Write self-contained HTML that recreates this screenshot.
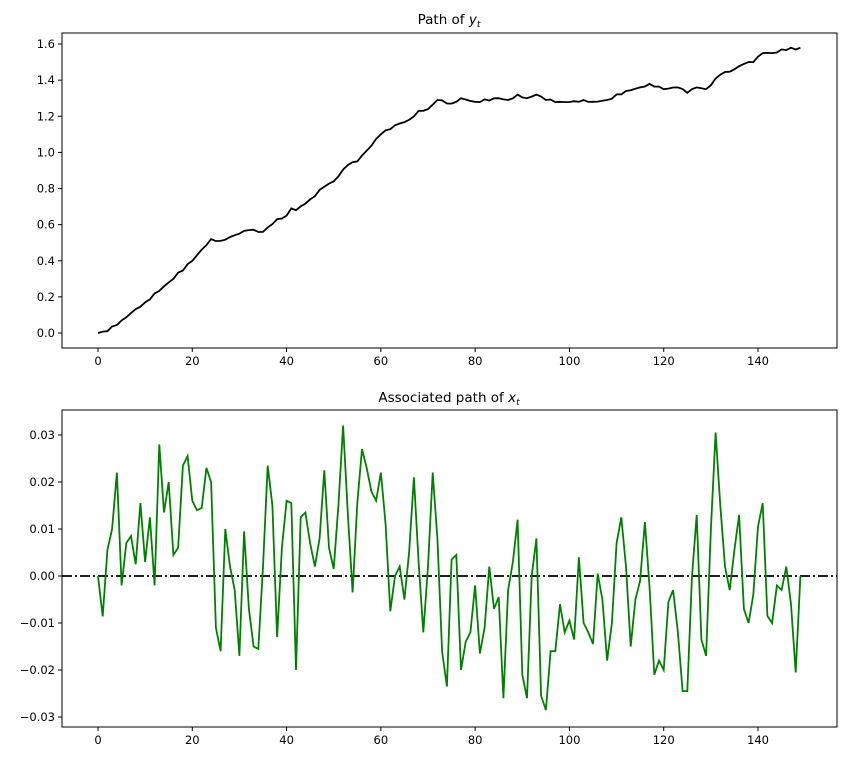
<!DOCTYPE html>
<html><head><meta charset="utf-8"><style>
html,body{margin:0;padding:0;background:#fff;}
svg text{font-family:"DejaVu Sans","Liberation Sans",sans-serif;font-size:11.5px;fill:#000;}
</style></head><body>
<svg id="s" width="847" height="759" xmlns="http://www.w3.org/2000/svg"></svg>
<script>
const S=document.getElementById('s');let h='';
const X=t=>98+t*(660/140);
const L=62,R=837;
function frame(t,b){h+=`<rect x="${L}" y="${t}" width="${R-L}" height="${b-t}" fill="none" stroke="#000" stroke-width="1"/>`;}
function xt(b){for(let k=0;k<=140;k+=20){const x=X(k);h+=`<line x1="${x}" y1="${b}" x2="${x}" y2="${b+4}" stroke="#000"/><text x="${x}" y="${b+17}" text-anchor="middle">${k}</text>`;}}
const key=[[0,0],[2,0.01],[5,0.07],[10,0.17],[15,0.28],[20,0.4],[24,0.52],[26,0.51],[30,0.55],[32,0.57],[35,0.56],[38,0.63],[40,0.65],[41,0.69],[42,0.68],[45,0.74],[48,0.81],[50,0.84],[53,0.93],[55,0.95],[60,1.10],[63,1.15],[66,1.18],[68,1.23],[70,1.24],[72,1.29],[75,1.27],[77,1.30],[80,1.28],[85,1.30],[87,1.29],[89,1.32],[91,1.30],[93,1.32],[95,1.29],[98,1.28],[102,1.28],[103,1.29],[105,1.28],[108,1.29],[112,1.34],[115,1.36],[117,1.38],[120,1.35],[123,1.36],[125,1.33],[127,1.36],[129,1.35],[132,1.43],[135,1.46],[137,1.49],[139,1.50],[141,1.55],[143,1.55],[147,1.58],[148,1.57],[149,1.58]];
const keyT=new Set(key.map(k=>k[0]));
function interp(t){for(let i=0;i<key.length-1;i++){const [a,va]=key[i],[b,vb]=key[i+1];if(t>=a&&t<=b)return va+(vb-va)*(t-a)/(b-a);}return key[key.length-1][1];}
let p=[];for(let t=0;t<150;t++){let v=interp(t);if(!keyT.has(t))v+=0.006*Math.sin(t*2.7);p.push(X(t).toFixed(1)+','+(333-v*180.6).toFixed(1));}
frame(33,348);
for(let k=0;k<=8;k++){const v=k*0.2,y=333-v*180.6;h+=`<line x1="${L-4}" y1="${y}" x2="${L}" y2="${y}" stroke="#000"/><text x="${L-7}" y="${y+4}" text-anchor="end">${v.toFixed(1)}</text>`;}
xt(348);
h+=`<polyline points="${p.join(' ')}" fill="none" stroke="#000" stroke-width="1.8"/>`;
h+=`<text x="449" y="24" text-anchor="middle" style="font-size:13.5px">Path of <tspan font-style="italic">y</tspan><tspan font-style="italic" font-size="9" dy="3">t</tspan></text>`;
const xs=[0,-0.86,0.55,1.0,2.2,-0.2,0.7,0.85,0.25,1.55,0.3,1.25,-0.2,2.8,1.35,2.0,0.45,0.6,2.35,2.55,1.6,1.4,1.45,2.3,2.0,-1.1,-1.6,1.0,0.2,-0.3,-1.7,0.95,-0.7,-1.5,-1.55,0.2,2.35,1.5,-1.3,0.6,1.6,1.55,-2.0,1.25,1.35,0.7,0.2,0.8,2.25,0.6,0.15,1.5,3.2,1.3,-0.35,1.55,2.7,2.3,1.8,1.6,2.2,1.1,-0.75,0,0.2,-0.5,0.5,2.1,0.3,-1.2,0.2,2.2,0.8,-1.6,-2.35,0.35,0.45,-2.0,-1.4,-1.2,-0.2,-1.65,-1.1,0.2,-0.7,-0.45,-2.6,-0.3,0.3,1.2,-2.1,-2.6,0,0.8,-2.55,-2.85,-1.6,-1.6,-0.6,-1.2,-0.95,-1.35,0.4,-1.0,-1.2,-1.45,0.05,-0.5,-1.8,-1.0,0.7,1.25,0.2,-1.5,-0.5,-0.1,1.15,-0.25,-2.1,-1.8,-2.0,-0.55,-0.3,-1.2,-2.45,-2.45,0,1.3,-1.35,-1.7,1.0,3.05,1.5,0.2,-0.3,0.55,1.3,-0.7,-1.0,-0.4,1.05,1.55,-0.85,-1.0,-0.2,-0.3,0.2,-0.6,-2.05,0];
frame(410,727);
const Y2=v=>576-v*47;
for(let k=-3;k<=3;k++){const y=Y2(k);h+=`<line x1="${L-4}" y1="${y}" x2="${L}" y2="${y}" stroke="#000"/><text x="${L-7}" y="${y+4}" text-anchor="end">${(k<0?'\u2212':'')+Math.abs(k/100).toFixed(2)}</text>`;}
xt(727);
h+=`<line x1="${L}" y1="576" x2="${R}" y2="576" stroke="#000" stroke-width="1.8" stroke-dasharray="10,3,2,3"/>`;
h+=`<polyline points="${xs.map((v,i)=>X(i).toFixed(1)+','+Y2(v).toFixed(1)).join(' ')}" fill="none" stroke="#008000" stroke-width="1.8"/>`;
h+=`<text x="449" y="402" text-anchor="middle" style="font-size:13.5px">Associated path of <tspan font-style="italic">x</tspan><tspan font-style="italic" font-size="9" dy="3">t</tspan></text>`;
S.innerHTML=h;
</script>
</body></html>
